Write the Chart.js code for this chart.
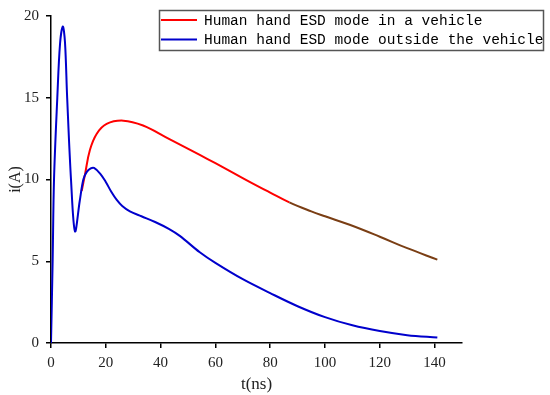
<!DOCTYPE html>
<html>
<head>
<meta charset="utf-8">
<script src="https://cdn.jsdelivr.net/npm/chart.js@4/dist/chart.umd.min.js"></script>
<style>
    html, body { margin: 0; padding: 0; background: #fff; }
    #wrap { width: 550px; height: 395px; position: relative; }
</style>
</head>
<body>
<div id="wrap"><canvas id="cnv-esd"></canvas></div>
<script>
//--------------------------------------
// Data
//--------------------------------------
var seriesLabels = [
    "Human hand ESD mode in a vehicle",
    "Human hand ESD mode outside the vehicle"
];

// outside the vehicle (blue)
var tOut = [0, 0.6, 1.1, 2.3, 3.3, 4.3, 5.1, 5.9, 7.3, 8.75, 10.5, 11.8, 13, 14.5, 15.7, 18, 20, 22, 24, 26, 28.8, 33, 38, 43, 47, 54.3, 60, 70, 80, 90, 100, 110, 120, 130, 141];
var iOut = [0, 5, 10, 15, 18.3, 19.36, 18.4, 15, 10, 6.83, 8.7, 10.0, 10.45, 10.68, 10.71, 10.35, 9.85, 9.25, 8.75, 8.38, 8.05, 7.75, 7.4, 6.98, 6.55, 5.55, 4.9, 3.9, 3.05, 2.25, 1.58, 1.08, 0.73, 0.48, 0.33];

// in a vehicle (red)
var tIn = [11.2, 12.4, 14.2, 16.7, 20.3, 26.4, 33.6, 43.4, 54.3, 60, 65, 72.5, 80, 87, 95, 100, 109, 120, 130, 141];
var iIn = [9.3, 10.3, 11.8, 12.8, 13.4, 13.6, 13.3, 12.45, 11.5, 11.0, 10.55, 9.86, 9.2, 8.6, 8.05, 7.75, 7.23, 6.5, 5.8, 5.1];

var xTicks = [0, 20, 40, 60, 80, 100, 120, 140];
var yTicks = [0, 5, 10, 15, 20];

var toPoints = function(xs, ys){
    var pts = [];
    for(var k = 0; k < xs.length; k++){
        pts.push({x: xs[k], y: ys[k]});
    }
    return pts;
};

//--------------------------------------
// Legend drawn inside a box, top right
//--------------------------------------
var boxLegend = {
    id: 'boxLegend',
    afterDraw: function(chart){
        var ctx = chart.ctx;
        var items = chart.data.datasets.slice().sort(function(a, b){ return a.legendIdx - b.legendIdx; });
        ctx.save();
        ctx.strokeStyle = '#555';
        ctx.lineWidth = 1.5;
        ctx.strokeRect(159.5, 10.5, 384, 40);
        ctx.font = '14.5px "Liberation Mono", monospace';
        ctx.textBaseline = 'middle';
        ctx.fillStyle = '#000';
        for(var k = 0; k < items.length; k++){
            var y = 20 + k * 19.5;
            ctx.strokeStyle = items[k].borderColor;
            ctx.lineWidth = 2;
            ctx.beginPath();
            ctx.moveTo(161, y);
            ctx.lineTo(197, y);
            ctx.stroke();
            ctx.fillText(items[k].label, 204, y + 1);
        }
        ctx.restore();
    }
};

var tickFont = { family: '"Liberation Serif", serif', size: 15 };

var setChart = function(){
    var cnv = document.getElementById('cnv-esd');
    var chart = new Chart(cnv, {
        type: 'line',
        data: {
            datasets: [
            {
                label: seriesLabels[0],
                legendIdx: 0,
                data: toPoints(tIn, iIn),
                borderColor: '#ff0000',
                borderWidth: 2,
                pointRadius: 0,
                tension: 0.4,
                order: 2,
                segment: {
                    borderColor: function(c){ return c.p0.parsed.x >= 87 ? '#7a3e14' : undefined; }
                }
            },
            {
                label: seriesLabels[1],
                legendIdx: 1,
                data: toPoints(tOut, iOut),
                borderColor: '#0000cc',
                borderWidth: 2,
                pointRadius: 0,
                tension: 0.35,
                order: 1
            }]
        },
        options: {
            responsive: true,
            maintainAspectRatio: false,
            animation: false,
            layout: { padding: { top: 12, right: 88, left: 6, bottom: 0 } },
            plugins: {
                legend: { display: false },
                tooltip: { enabled: false }
            },
            scales: {
                x: {
                    type: 'linear',
                    min: 0,
                    max: 150,
                    afterFit: function(s){ s.height = 52; },
                    afterBuildTicks: function(s){ s.ticks = xTicks.map(function(v){ return {value: v}; }); },
                    border: { color: '#000', width: 1.5 },
                    grid: { drawOnChartArea: false, color: '#000', lineWidth: 1.5, tickLength: 5 },
                    ticks: { color: '#222', font: tickFont, padding: 6, maxRotation: 0 },
                    title: {
                        display: true,
                        text: 't(ns)',
                        color: '#222',
                        font: { family: '"Liberation Serif", serif', size: 17 },
                        padding: { top: 0, bottom: 0 }
                    }
                },
                y: {
                    min: 0,
                    max: 20,
                    afterFit: function(s){ s.width = 45; },
                    afterBuildTicks: function(s){ s.ticks = yTicks.map(function(v){ return {value: v}; }); },
                    border: { color: '#000', width: 1.5 },
                    grid: { drawOnChartArea: false, color: '#000', lineWidth: 1.5, tickLength: 5 },
                    ticks: { color: '#222', font: tickFont, padding: 7 },
                    title: {
                        display: true,
                        text: 'i(A)',
                        color: '#222',
                        font: { family: '"Liberation Serif", serif', size: 16 },
                        padding: { top: 0, bottom: 0 }
                    }
                }
            }
        },
        plugins: [boxLegend]
    });
};

setChart();
</script>
</body>
</html>
